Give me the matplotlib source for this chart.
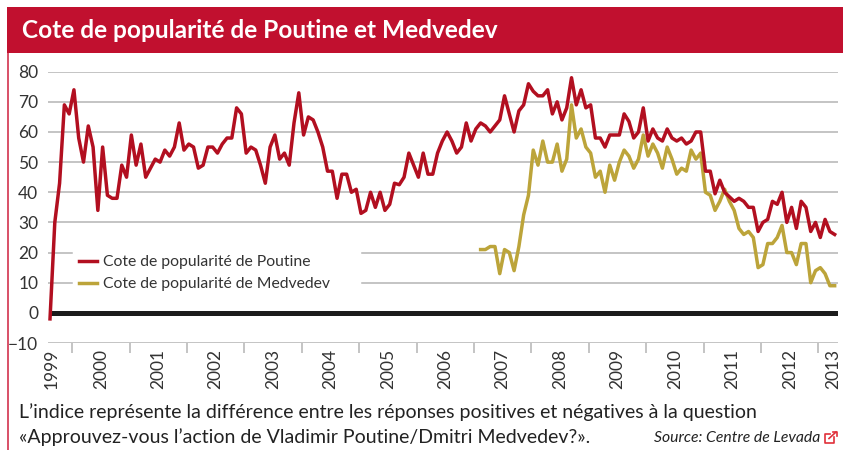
import matplotlib
matplotlib.use('Agg')
import matplotlib.pyplot as plt
from matplotlib.patches import Rectangle
from matplotlib.lines import Line2D

#### DATA ####
# monthly values, from Aug 1999
poutine = [-2, 30, 43, 69, 66, 74, 58, 50, 62, 55, 34, 55, 39, 38, 38, 49, 45, 59, 49, 56,
           45, 48, 51, 50, 54, 52, 55, 63, 54, 56, 55, 48, 49, 55, 55, 53, 56, 58, 58, 68,
           66, 53, 55, 54, 49, 43, 55, 59, 51, 53, 49, 63, 73, 59, 65, 64, 60, 55, 47, 47,
           38, 46, 46, 40, 41, 33, 34, 40, 35, 40, 34, 36, 43, 42.5, 45, 53, 49, 45, 53, 46,
           46, 53, 57, 60, 57, 53, 55, 63, 57, 61, 63, 62, 60, 62, 64, 72, 66, 60, 67, 69,
           76, 73.5, 72, 72, 74, 66, 70, 64, 68, 78, 69, 74, 68, 69, 58, 58, 55, 59, 59, 59,
           66, 63.5, 58, 60, 68, 57, 61, 58, 57, 61, 58, 57, 58, 56, 57, 60, 60, 47, 47, 39.5,
           44, 40, 38.5, 37, 38, 37, 35, 35, 27, 30, 31, 37, 36, 40, 30, 35, 28, 37, 35, 27,
           30, 25, 31, 27, 26]
medvedev = [21, 21, 22, 22, 13, 21, 20, 14, 22, 32.5, 39, 54, 49, 57, 50, 50, 56, 47, 51, 69,
            58, 61, 55, 53, 45, 47, 40, 49, 44, 50, 54, 52, 48, 51, 59, 52, 56, 53, 48, 55,
            51, 46, 48, 47, 54, 51, 53, 40, 39, 34, 37, 41, 37, 34, 28, 26, 27, 25, 15, 16,
            23, 23, 25, 29, 20, 20, 16, 23, 23, 10, 14, 15, 13, 9, 9]
medvedev_start = 90
years = [2000, 2001, 2002, 2003, 2004, 2005, 2006, 2007, 2008, 2009, 2010, 2011, 2012, 2013]
yticks = [-10, 0, 10, 20, 30, 40, 50, 60, 70, 80]

RED = '#b20f20'
GOLD = '#bca43a'
W, H = 843, 450

plt.rcParams['font.family'] = ['Lato', 'DejaVu Sans']
fig = plt.figure(figsize=(W / 100, H / 100), dpi=100)

# banner and left border, in pixels of the figure
bg = fig.add_axes([0, 0, 1, 1])
bg.set_xlim(0, W)
bg.set_ylim(H, 0)
bg.axis('off')
bg.add_patch(Rectangle((7, 7), 836, 46, color='#c1102f', lw=0))
bg.add_patch(Rectangle((7, 53), 1.6, H - 53, color='#d9546b', lw=0))
bg.text(22, 31, 'Cote de popularité de Poutine et Medvedev', color='white', fontsize=17.6,
        fontweight='bold', va='center', ha='left')
bg.text(19, 412.5, 'L’indice représente la différence entre les réponses positives et négatives à la question',
        color='#222222', fontsize=14.05, va='center')
bg.text(19, 437.5, '«Approuvez-vous l’action de Vladimir Poutine/Dmitri Medvedev?».',
        color='#222222', fontsize=14.05, va='center')
bg.text(654, 437.5, 'Source: Centre de Levada', color='#222222', fontsize=11.3,
        style='italic', va='center')
# link icon
bg.plot([830, 824.5, 824.5, 833.5, 833.5], [433.5, 433.5, 442.5, 442.5, 437], color='#e0303a', lw=1.2)
bg.plot([829, 836], [438.5, 432], color='#e0303a', lw=1.2)
bg.plot([832.5, 837, 837], [431.5, 431.5, 436], color='#e0303a', lw=1.2)

#### CHART ####
ax = fig.add_axes([48 / W, 1 - 343 / H, 790 / W, (343 - 71.7) / H])
ax.patch.set_alpha(0)
ax.set_xlim(-0.42, 164.7)
ax.set_ylim(-10, 80)
for s in ax.spines.values():
    s.set_visible(False)

# gridlines 10 and 20 stop around the legend
gap_from, gap_to = 24 / 790, 314 / 790
for v in yticks:
    if v in (10, 20):
        ax.axhline(v, xmax=gap_from, color='#b4b4b4', lw=1.1, zorder=1)
        ax.axhline(v, xmin=gap_to, color='#b4b4b4', lw=1.1, zorder=1)
    elif v != 0:
        ax.axhline(v, color='#b4b4b4', lw=1.1, zorder=1)
ax.axhline(0, xmin=0.005, color='#1c1c1c', lw=3.6, zorder=2)

x = list(range(len(poutine)))
ax.plot(x[medvedev_start:], medvedev, color=GOLD, lw=2.5, solid_joinstyle='round', zorder=3)
ax.plot(x, poutine, color=RED, lw=2.5, solid_joinstyle='round', zorder=4)

ax.set_yticks(yticks)
ax.tick_params(axis='y', length=0, labelsize=12.5, labelcolor='#333333', pad=7)

# year ticks sit on the year change, labels in the middle of the year
ticks = [4.62 + 12 * i for i in range(len(years))]
ax.set_xticks(ticks)
ax.set_xticklabels([])
ax.tick_params(axis='x', length=7, color='#b4b4b4', width=1.1)
ax.text(0.4, -12, '1999', rotation=90, ha='center', va='top', fontsize=12.5, color='#333333')
for i, y in enumerate(years):
    pos = ticks[i] + 6 if y != 2013 else ticks[i] + 3
    ax.text(pos, -12, str(y), rotation=90, ha='center', va='top', fontsize=12.5, color='#333333')

handles = [Line2D([], [], color=RED, lw=2.5), Line2D([], [], color=GOLD, lw=2.5)]
ax.legend(handles, ['Cote de popularité de Poutine', 'Cote de popularité de Medvedev'],
          loc='lower left', bbox_to_anchor=(31 / 790, (343 - 291) / 271.3), frameon=False,
          fontsize=11.3, labelcolor='#333333', handlelength=1.15, handletextpad=0.4,
          labelspacing=0.5, borderpad=0, borderaxespad=0)

fig.savefig('out.png', dpi=100)
